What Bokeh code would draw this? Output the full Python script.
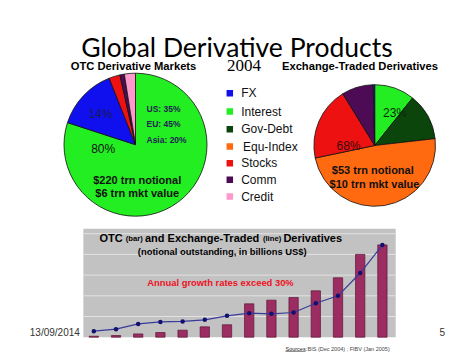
import numpy as np
from bokeh.plotting import figure
from bokeh.models import Range1d
from bokeh.core.properties import value
from bokeh.embed import file_html
from bokeh.resources import INLINE

# ---------------- data ----------------
pie_labels = ["FX", "Interest", "Gov-Debt", "Equ-Index", "Stocks", "Comm", "Credit"]
pie_colors = ["#1010ee", "#22ee22", "#0b450b", "#ff6a10", "#ee1111", "#4d0a55", "#ff99cc"]

# OTC shares (% of notional), clockwise from 12 o'clock
otc_cats = ["Interest", "FX", "Stocks", "Comm", "Credit"]
otc_share = [80.0, 14.0, 2.5, 1.0, 2.5]

# Exchange-traded shares, clockwise from 12 o'clock
et_cats = ["Interest", "Gov-Debt", "Equ-Index", "Stocks", "Comm", "FX"]
et_share = [10.7, 12.5, 48.5, 19.5, 8.4, 0.4]

years = [1991, 1992, 1993, 1994, 1995, 1996, 1997, 1998, 1999, 2000, 2001, 2002, 2003, 2004]
otc_bar = [2400, 4000, 8000, 11300, 17000, 25000, 30000, 80600, 89500, 96000, 112000, 143500, 200000, 223000]
et_line = [14500, 19400, 32000, 37000, 38000, 42000, 51600, 58000, 56500, 59700, 82000, 100000, 155000, 222600]
grid_vals = [50000, 100000, 150000, 200000, 250000]

# ---------------- layout ----------------
W, H = 466, 352
def X(sx):
    return sx
def Y(sy):
    return H - sy

p = figure(width=W, height=H, output_backend="svg", toolbar_location=None,
           x_range=Range1d(0, W), y_range=Range1d(0, H),
           x_axis_location=None, y_axis_location=None, min_border=0)
p.outline_line_color = None
p.xgrid.visible = False
p.ygrid.visible = False
p.background_fill_color = "white"
p.border_fill_color = "white"

# bar chart scales (extra ranges mapped onto the slide area)
bx0, bstep = 93.3, 22.2         # screen x of first bar, spacing
by0, bpx = 336.7, 20.7 / 50000  # baseline screen y, px per billion
p.extra_x_ranges = {"bx": Range1d(-bx0 / bstep, (W - bx0) / bstep)}
p.extra_y_ranges = {"by": Range1d(-(H - by0) / bpx, by0 / bpx)}

SANS = value("Liberation Sans")

def txt(sx, sy, s, size, color="black", bold=True, align="center", font=SANS, baseline="middle"):
    p.text(x=[X(sx)], y=[Y(sy)], text=[s], text_font=font, text_font_size=size,
           text_font_style="bold" if bold else "normal", text_align=align,
           text_baseline=baseline, text_color=color)

# ---------------- title ----------------
txt(236.5, 46, "Global Derivative Products", "26.5px", bold=False, font=value("Lato"), baseline="alphabetic")

# ---------------- pies ----------------
def pie(cx, cy, r, cats, share):
    frac = np.array(share) / np.sum(share)
    cum = np.concatenate([[0], np.cumsum(frac)])
    start = np.pi / 2 - 2 * np.pi * cum[:-1]
    end = np.pi / 2 - 2 * np.pi * cum[1:]
    cols = [pie_colors[pie_labels.index(c)] for c in cats]
    p.wedge(x=X(cx), y=Y(cy), radius=r, start_angle=start, end_angle=end,
            direction="clock", fill_color=cols, line_color="#111111", line_width=0.8)

pie(135, 144.2, 71.5, otc_cats, otc_share)
pie(374.2, 145, 60.8, et_cats, et_share)

# pie titles
txt(133, 65, "OTC Derivative Markets", "11.2px")
txt(243.5, 65, "2004", "17px", bold=False, font=value("Liberation Serif"))
txt(359.5, 65, "Exchange-Traded Derivatives", "11.2px")

# OTC pie labels
txt(100, 113.5, "14%", "12px", color="#1a1a55", bold=False)
txt(102.7, 148.5, "80%", "12px", color="#111111", bold=False)
txt(146, 108.3, "US:   35%", "8.5px", color="#222255", align="left")
txt(146, 123.7, "EU:   45%", "8.5px", color="#222255", align="left")
txt(146, 139.3, "Asia: 20%", "8.5px", color="#222255", align="left")
txt(136.7, 179, "$220 trn notional", "11px", color="#111111")
txt(136.7, 192.5, "$6 trn mkt value", "11px", color="#111111")

# ET pie labels
txt(394.5, 112.7, "23%", "12px", color="#0b2a0b", bold=False)
txt(348, 145, "68%", "12px", color="#3a0a0a", bold=False)
txt(372.3, 169.3, "$53 trn notional", "11px", color="#111111")
txt(374, 183.3, "$10 trn mkt value", "11px", color="#111111")

# legend
leg_y = [92.7, 111, 128.7, 146, 162.7, 179.3, 196]
p.scatter(x=[X(229.3)] * len(pie_labels), y=[Y(v) for v in leg_y], marker="square",
          size=6.5, fill_color=pie_colors, line_color=None)
for lab, yy in zip(pie_labels, leg_y):
    txt(240.7 if lab != "Equ-Index" else 242.5, yy, lab, "12px", color="#111111", bold=False, align="left")

# ---------------- bar chart ----------------
xi = list(range(len(years)))
p.quad(left=[-0.47], right=[13.6], bottom=[0], top=[262000],
       x_range_name="bx", y_range_name="by", fill_color="#c2c2c2", line_color=None)
p.segment(x0=[-0.47] * len(grid_vals), x1=[13.6] * len(grid_vals), y0=grid_vals, y1=grid_vals,
          x_range_name="bx", y_range_name="by", line_color="#e2e2e2", line_width=1)
p.vbar(x=xi, top=otc_bar, bottom=0, width=0.42, x_range_name="bx", y_range_name="by",
       fill_color="#9b2d62", line_color="#5a1535", line_width=0.7)
p.line(x=xi, y=et_line, x_range_name="bx", y_range_name="by", line_color="#3a3a9a", line_width=1.2)
p.scatter(x=xi, y=et_line, x_range_name="bx", y_range_name="by", size=4.5,
          fill_color="#101070", line_color=None)

# bar chart texts
ty = 237.7
txt(99, ty, "OTC", "11px", align="left")
txt(125.3, ty + 0.6, "(bar)", "7.7px", align="left")
txt(144.5, ty, "and Exchange-Traded", "11px", align="left")
txt(262.4, ty + 0.6, "(line)", "7.7px", align="left")
txt(282.9, ty, "Derivatives", "11px", align="left")
txt(221.7, 251, "(notional outstanding, in billions US$)", "9.4px")
txt(220, 281.7, "Annual growth rates exceed 30%", "9.4px", color="#ee1122")

# footer
txt(29.3, 331.7, "13/09/2014", "10px", color="#333333", bold=False, align="left")
txt(441.7, 331.7, "5", "10px", color="#333333", bold=False)
txt(285, 348.5, "Sources:", "5.5px", color="#222222", bold=False, align="left")
p.segment(x0=[X(285)], x1=[X(305)], y0=[Y(351)], y1=[Y(351)], line_color="#222222", line_width=0.5)
txt(307, 348.5, "BIS (Dec 2004) ; FIBV (Jan 2005)", "5.5px", color="#444444", bold=False, align="left")

open("out.html", "w").write(file_html(p, INLINE))
